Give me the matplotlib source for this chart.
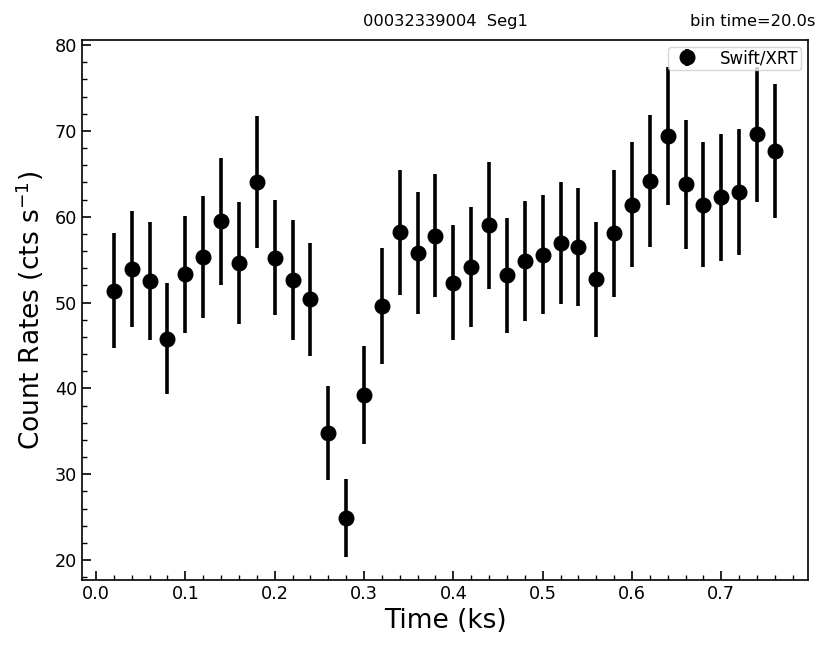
import matplotlib
matplotlib.use("Agg")
import matplotlib.pyplot as plt
from matplotlib.ticker import AutoMinorLocator

time_ks = [0.02, 0.04, 0.06, 0.08, 0.10, 0.12, 0.14, 0.16, 0.18, 0.20,
           0.22, 0.24, 0.26, 0.28, 0.30, 0.32, 0.34, 0.36, 0.38, 0.40,
           0.42, 0.44, 0.46, 0.48, 0.50, 0.52, 0.54, 0.56, 0.58, 0.60,
           0.62, 0.64, 0.66, 0.68, 0.70, 0.72, 0.74, 0.76]
rate = [51.4, 53.9, 52.5, 45.8, 53.3, 55.3, 59.5, 54.6, 64.1, 55.2,
        52.6, 50.4, 34.8, 24.9, 39.2, 49.6, 58.2, 55.8, 57.8, 52.3,
        54.1, 59.0, 53.2, 54.8, 55.6, 56.9, 56.5, 52.7, 58.1, 61.4,
        64.2, 69.4, 63.8, 61.4, 62.3, 62.9, 69.6, 67.7]
rate_err = [6.7, 6.8, 6.9, 6.5, 6.8, 7.1, 7.4, 7.1, 7.7, 6.7,
            7.0, 6.6, 5.5, 4.5, 5.7, 6.8, 7.3, 7.1, 7.2, 6.7,
            7.0, 7.4, 6.7, 7.0, 6.9, 7.1, 6.9, 6.7, 7.4, 7.3,
            7.7, 8.0, 7.5, 7.3, 7.4, 7.3, 7.9, 7.8]

fig = plt.figure(figsize=(8.31, 6.54), dpi=100)
ax = fig.add_axes([82/831, 1 - 580/654, (808-82)/831, (580-40)/654])

ax.errorbar(time_ks, rate, yerr=rate_err, fmt='o', color='black',
            ms=10.5, elinewidth=2.6, capsize=0, label='Swift/XRT')

ax.set_xlim(-0.0157, 0.797)
ax.set_ylim(17.67, 80.6)
ax.set_xlabel('Time (ks)', fontsize=19)
ax.set_ylabel(r'Count Rates (cts s$^{-1}$)', fontsize=19, labelpad=6)

ax.text(0.5, 1.0 + 14/540, '00032339004  Seg1', transform=ax.transAxes,
        ha='center', va='baseline', fontsize=11.7)
ax.text(1.0 + 7/726, 1.0 + 14/540, 'bin time=20.0s', transform=ax.transAxes,
        ha='right', va='baseline', fontsize=11.7)

ax.xaxis.set_minor_locator(AutoMinorLocator(5))
ax.yaxis.set_minor_locator(AutoMinorLocator(5))
ax.tick_params(which='both', direction='in', labelsize=12.7)
ax.tick_params(which='major', length=6.5, width=1.2)
ax.tick_params(which='minor', length=3.5, width=1)
for s in ax.spines.values():
    s.set_linewidth(1.2)

ax.legend(loc='upper right', fontsize=12, borderaxespad=0.4,
          borderpad=0.15, handletextpad=1.0)

fig.savefig('out.png', dpi=100)
